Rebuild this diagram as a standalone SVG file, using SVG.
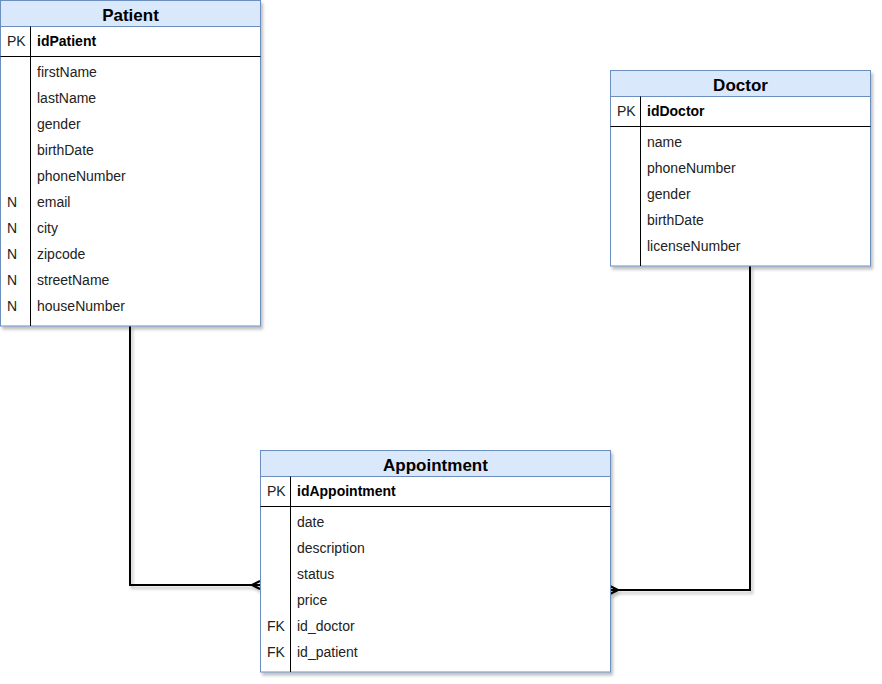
<svg xmlns="http://www.w3.org/2000/svg" width="882" height="684" viewBox="0 0 882 684">
  <style>
    .hdr { fill: #dae8fc; stroke: #6c8ebf; stroke-width: 1; }
    .body { fill: #ffffff; stroke: #6c8ebf; stroke-width: 1; }
    .sep { stroke: #000000; stroke-width: 1; fill: none; }
    .title { font-family: "Liberation Sans", Arial, sans-serif; font-size: 17px; font-weight: bold; fill: #000; text-anchor: middle; }
    .key { font-family: "Liberation Sans", Arial, sans-serif; font-size: 14px; fill: #222; }
    .pk { font-family: "Liberation Sans", Arial, sans-serif; font-size: 14px; font-weight: bold; fill: #000; }
    .fld { font-family: "Liberation Sans", Arial, sans-serif; font-size: 14px; fill: #222; }
    .link { stroke: #000000; stroke-width: 2; fill: none; }
  </style>
  <defs>
    <filter id="shadow" x="-10%" y="-10%" width="120%" height="120%">
      <feDropShadow dx="2" dy="3" stdDeviation="1.5" flood-color="#000" flood-opacity="0.25"/>
    </filter>
  </defs>

  <rect width="882" height="684" fill="#ffffff"/>

  <!-- relationship lines -->
  <g id="connectors" filter="url(#shadow)">
    <path class="link" d="M130,326 V585 H260"/>
    <path class="link" d="M252,585 L260,581 M252,585 L260,589"/>
    <path class="link" d="M750,266 V590 H610"/>
    <path class="link" d="M618,590 L610,586 M618,590 L610,594"/>
  </g>

  <!-- Patient table -->
  <g id="patient">
    <g filter="url(#shadow)">
      <rect class="body" x="0.5" y="0.5" width="260" height="325.5"/>
    </g>
    <rect class="hdr" x="0.5" y="0.5" width="260" height="26"/>
    <line class="sep" x1="0.5" y1="56.5" x2="260.5" y2="56.5"/>
    <line class="sep" x1="30.5" y1="26.5" x2="30.5" y2="326"/>
    <text class="title" x="130.5" y="21">Patient</text>
    <text class="key" x="7" y="46">PK</text>
    <text class="pk" x="37" y="46">idPatient</text>
    <text class="fld" x="37" y="77">firstName</text>
    <text class="fld" x="37" y="103">lastName</text>
    <text class="fld" x="37" y="129">gender</text>
    <text class="fld" x="37" y="155">birthDate</text>
    <text class="fld" x="37" y="181">phoneNumber</text>
    <text class="key" x="7" y="207">N</text>
    <text class="fld" x="37" y="207">email</text>
    <text class="key" x="7" y="233">N</text>
    <text class="fld" x="37" y="233">city</text>
    <text class="key" x="7" y="259">N</text>
    <text class="fld" x="37" y="259">zipcode</text>
    <text class="key" x="7" y="285">N</text>
    <text class="fld" x="37" y="285">streetName</text>
    <text class="key" x="7" y="311">N</text>
    <text class="fld" x="37" y="311">houseNumber</text>
  </g>

  <!-- Doctor table -->
  <g id="doctor">
    <g filter="url(#shadow)">
      <rect class="body" x="610.5" y="70.5" width="260" height="195.5"/>
    </g>
    <rect class="hdr" x="610.5" y="70.5" width="260" height="26"/>
    <line class="sep" x1="610.5" y1="126.5" x2="870.5" y2="126.5"/>
    <line class="sep" x1="640.5" y1="96.5" x2="640.5" y2="266"/>
    <text class="title" x="740.5" y="91">Doctor</text>
    <text class="key" x="617" y="116">PK</text>
    <text class="pk" x="647" y="116">idDoctor</text>
    <text class="fld" x="647" y="147">name</text>
    <text class="fld" x="647" y="173">phoneNumber</text>
    <text class="fld" x="647" y="199">gender</text>
    <text class="fld" x="647" y="225">birthDate</text>
    <text class="fld" x="647" y="251">licenseNumber</text>
  </g>

  <!-- Appointment table -->
  <g id="appointment">
    <g filter="url(#shadow)">
      <rect class="body" x="260.5" y="450.5" width="350" height="221.5"/>
    </g>
    <rect class="hdr" x="260.5" y="450.5" width="350" height="26"/>
    <line class="sep" x1="260.5" y1="506.5" x2="610.5" y2="506.5"/>
    <line class="sep" x1="290.5" y1="476.5" x2="290.5" y2="672"/>
    <text class="title" x="435.5" y="471">Appointment</text>
    <text class="key" x="267" y="496">PK</text>
    <text class="pk" x="297" y="496">idAppointment</text>
    <text class="fld" x="297" y="527">date</text>
    <text class="fld" x="297" y="553">description</text>
    <text class="fld" x="297" y="579">status</text>
    <text class="fld" x="297" y="605">price</text>
    <text class="key" x="267" y="631">FK</text>
    <text class="fld" x="297" y="631">id_doctor</text>
    <text class="key" x="267" y="657">FK</text>
    <text class="fld" x="297" y="657">id_patient</text>
  </g>
</svg>
